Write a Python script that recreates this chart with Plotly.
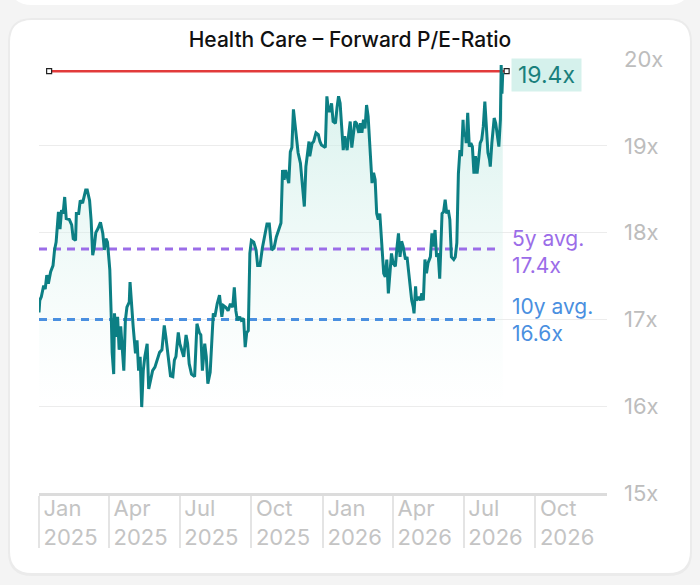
import plotly.graph_objects as go

# forward P/E readings (position on the chart's own y scale)
dates_2025 = [
    "2025-01-01", "2025-01-02", "2025-01-04", "2025-01-07", "2025-01-09", "2025-01-11", "2025-01-13",
    "2025-01-16", "2025-01-19", "2025-01-21", "2025-01-23", "2025-01-26", "2025-01-28", "2025-01-30",
    "2025-02-01", "2025-02-03", "2025-02-05", "2025-02-09", "2025-02-12", "2025-02-14", "2025-02-17",
    "2025-02-18", "2025-02-21", "2025-02-23", "2025-02-26", "2025-02-28", "2025-03-02", "2025-03-04",
    "2025-03-07", "2025-03-09", "2025-03-11", "2025-03-13", "2025-03-15", "2025-03-18", "2025-03-21",
    "2025-03-24", "2025-03-26", "2025-03-28", "2025-03-30", "2025-04-01", "2025-04-02", "2025-04-04",
    "2025-04-05", "2025-04-07", "2025-04-08", "2025-04-10", "2025-04-12", "2025-04-14", "2025-04-16",
    "2025-04-20", "2025-04-22", "2025-04-24", "2025-04-27", "2025-04-28", "2025-04-30", "2025-05-02",
    "2025-05-05", "2025-05-07", "2025-05-09", "2025-05-11", "2025-05-13", "2025-05-15", "2025-05-17",
    "2025-05-20", "2025-05-22", "2025-05-24", "2025-05-27", "2025-05-30", "2025-06-02", "2025-06-05",
    "2025-06-08", "2025-06-11", "2025-06-13", "2025-06-16", "2025-06-19", "2025-06-22", "2025-06-24",
    "2025-06-26", "2025-06-29", "2025-07-01", "2025-07-04", "2025-07-06", "2025-07-09", "2025-07-11",
    "2025-07-13", "2025-07-16", "2025-07-20", "2025-07-23", "2025-07-26", "2025-07-28", "2025-07-30",
    "2025-08-02", "2025-08-04", "2025-08-06", "2025-08-09", "2025-08-11", "2025-08-13", "2025-08-15",
    "2025-08-18", "2025-08-21", "2025-08-23", "2025-08-24", "2025-08-26", "2025-08-29", "2025-09-01",
    "2025-09-04", "2025-09-07", "2025-09-09", "2025-09-11", "2025-09-13", "2025-09-16", "2025-09-18",
    "2025-09-21", "2025-09-23", "2025-09-25", "2025-09-27", "2025-09-29", "2025-10-01", "2025-10-04",
    "2025-10-07", "2025-10-09", "2025-10-12", "2025-10-15", "2025-10-18", "2025-10-21", "2025-10-24",
    "2025-10-27", "2025-10-30", "2025-11-02", "2025-11-05", "2025-11-08", "2025-11-10", "2025-11-12",
    "2025-11-14", "2025-11-16", "2025-11-18", "2025-11-20", "2025-11-22", "2025-11-24", "2025-11-26",
    "2025-11-28", "2025-11-30", "2025-12-03", "2025-12-05", "2025-12-08", "2025-12-10", "2025-12-12",
    "2025-12-14", "2025-12-15", "2025-12-18", "2025-12-20", "2025-12-23", "2025-12-26", "2025-12-28",
    "2025-12-30",
]
pe_2025 = [
    17.08, 17.22, 17.26, 17.39, 17.35, 17.51, 17.41,
    17.55, 17.62, 17.80, 17.89, 18.24, 18.04, 18.26,
    18.22, 18.41, 18.16, 18.15, 18.09, 17.93, 17.91,
    18.22, 18.22, 18.37, 18.34, 18.43, 18.49, 18.49,
    18.37, 18.14, 17.74, 17.83, 18.00, 18.05, 18.12,
    17.99, 17.80, 17.93, 17.89, 17.68, 17.57, 16.99,
    16.62, 16.37, 17.07, 16.80, 17.03, 16.65, 16.92,
    16.41, 16.99, 17.14, 17.20, 17.43, 17.14, 16.92,
    16.61, 16.76, 16.41, 16.57, 15.99, 16.41, 16.57,
    16.72, 16.20, 16.30, 16.41, 16.45, 16.53, 16.62,
    16.65, 16.93, 16.80, 16.57, 16.35, 16.34, 16.53,
    16.57, 16.85, 16.72, 16.61, 16.57, 16.82, 16.72,
    16.49, 16.37, 16.34, 16.95, 16.85, 16.82, 16.41,
    16.72, 16.57, 16.26, 16.39, 16.76, 17.07, 17.03,
    17.18, 17.28, 17.10, 17.03, 17.16, 17.14, 17.10,
    17.18, 17.14, 17.37, 17.10, 16.99, 17.03, 16.99,
    17.01, 16.68, 16.85, 16.87, 17.76, 17.91, 17.89,
    17.80, 17.62, 17.62, 17.82, 17.97, 18.10, 18.10,
    17.80, 17.82, 17.95, 18.03, 18.11, 18.72, 18.61,
    18.72, 18.63, 18.57, 18.93, 18.98, 19.42, 19.26,
    19.11, 18.92, 18.80, 18.61, 18.30, 18.76, 18.88,
    19.05, 18.88, 19.03, 19.05, 19.15, 19.13, 19.05,
    19.01,
]
dates_2026 = [
    "2026-01-04", "2026-01-06", "2026-01-08", "2026-01-10", "2026-01-12", "2026-01-14", "2026-01-17",
    "2026-01-19", "2026-01-21", "2026-01-23", "2026-01-25", "2026-01-27", "2026-01-29", "2026-02-01",
    "2026-02-03", "2026-02-05", "2026-02-07", "2026-02-09", "2026-02-11", "2026-02-13", "2026-02-16",
    "2026-02-18", "2026-02-20", "2026-02-22", "2026-02-24", "2026-02-26", "2026-02-28", "2026-03-03",
    "2026-03-05", "2026-03-07", "2026-03-09", "2026-03-11", "2026-03-13", "2026-03-15", "2026-03-17",
    "2026-03-20", "2026-03-22", "2026-03-24", "2026-03-26", "2026-03-28", "2026-03-30", "2026-04-01",
    "2026-04-04", "2026-04-06", "2026-04-08", "2026-04-10", "2026-04-12", "2026-04-14", "2026-04-17",
    "2026-04-19", "2026-04-21", "2026-04-23", "2026-04-25", "2026-04-27", "2026-04-28", "2026-04-30",
    "2026-05-01", "2026-05-04", "2026-05-06", "2026-05-08", "2026-05-10", "2026-05-12", "2026-05-14",
    "2026-05-16", "2026-05-19", "2026-05-21", "2026-05-23", "2026-05-25", "2026-05-27", "2026-05-29",
    "2026-05-31", "2026-06-03", "2026-06-05", "2026-06-07", "2026-06-09", "2026-06-11", "2026-06-13",
    "2026-06-15", "2026-06-18", "2026-06-20", "2026-06-22", "2026-06-24", "2026-06-26", "2026-06-28",
    "2026-06-30", "2026-07-01", "2026-07-03", "2026-07-04", "2026-07-06", "2026-07-08", "2026-07-10",
    "2026-07-12", "2026-07-14", "2026-07-16", "2026-07-18", "2026-07-20", "2026-07-22", "2026-07-24",
    "2026-07-26", "2026-07-28", "2026-07-30", "2026-08-01", "2026-08-03", "2026-08-04", "2026-08-06",
    "2026-08-08", "2026-08-09", "2026-08-11", "2026-08-13", "2026-08-15", "2026-08-17", "2026-08-18",
    "2026-08-19", "2026-08-20",
]
pe_2026 = [
    18.98, 19.57, 19.40, 19.40, 19.49, 19.28, 19.26,
    19.44, 19.57, 19.49, 19.26, 18.95, 19.11, 18.95,
    19.13, 19.28, 18.98, 19.13, 19.28, 19.26, 19.15,
    19.26, 19.15, 19.30, 19.20, 19.47, 19.34, 18.88,
    18.57, 18.69, 18.61, 18.22, 18.15, 18.22, 17.90,
    17.53, 17.49, 17.69, 17.30, 17.53, 17.76, 17.65,
    17.61, 17.82, 17.99, 17.72, 17.90, 17.84, 17.69,
    17.72, 17.53, 17.38, 17.22, 17.14, 17.07, 17.38,
    17.22, 17.26, 17.22, 17.30, 17.22, 17.69, 17.53,
    17.65, 17.72, 17.99, 17.84, 18.03, 17.72, 17.76,
    17.47, 18.22, 18.24, 18.38, 18.22, 18.26, 18.15,
    17.72, 17.69, 17.72, 17.88, 18.68, 18.95, 18.88,
    19.30, 19.11, 19.15, 19.03, 19.38, 18.99, 19.03,
    18.99, 18.68, 18.88, 18.68, 18.84, 19.03, 19.07,
    19.22, 19.51, 19.15, 18.92, 18.84, 18.76, 19.03,
    19.22, 19.32, 19.26, 19.11, 18.99, 19.30, 19.93,
    19.60, 19.84,
]

title = "Health Care – Forward P/E-Ratio"
current_level = 19.86
current_label = "19.4x"
current_span = ["2025-01-14", "2026-08-25"]
avg5_level = 17.81
avg5_label = "5y avg.<br>17.4x"
avg10_level = 17.0
avg10_label = "10y avg.<br>16.6x"
avg_span = ["2025-01-01", "2026-08-16"]

quarters = ["2025-01-01", "2025-04-01", "2025-07-01", "2025-10-01",
            "2026-01-01", "2026-04-01", "2026-07-01", "2026-10-01"]
quarter_labels = ["Jan<br>2025", "Apr<br>2025", "Jul<br>2025", "Oct<br>2025",
                  "Jan<br>2026", "Apr<br>2026", "Jul<br>2026", "Oct<br>2026"]
y_ticks = [15, 16, 17, 18, 19, 20]
y_tick_labels = ["15x", "16x", "17x", "18x", "19x", "20x"]

dates = dates_2025 + dates_2026
pe = pe_2025 + pe_2026

TEAL = "#0c7f84"
PURPLE = "#9b6de8"
BLUE = "#4a8fe0"
FONT = "Inter"

W, H = 700, 585
ML, MR, MT, MB = 39, 93, 59, 92
pw, ph = W - ML - MR, H - MT - MB


def card_path(x0, y0, x1, y1, r):
    # pixel box -> paper coords, rounded corners
    X0 = (x0 - ML) / pw
    X1 = (x1 - ML) / pw
    YT = (H - MB - y0) / ph
    YB = (H - MB - y1) / ph
    rx, ry = r / pw, r / ph
    return (f"M{X0+rx},{YT} L{X1-rx},{YT} Q{X1},{YT} {X1},{YT-ry} "
            f"L{X1},{YB+ry} Q{X1},{YB} {X1-rx},{YB} L{X0+rx},{YB} "
            f"Q{X0},{YB} {X0},{YB+ry} L{X0},{YT-ry} Q{X0},{YT} {X0+rx},{YT} Z")


fig = go.Figure()

# area under the line
fig.add_trace(go.Scatter(
    x=dates, y=pe, mode="lines", line=dict(width=0, color=TEAL),
    fill="tozeroy",
    fillgradient=dict(type="vertical",
                      colorscale=[[0, "rgba(225,245,241,0)"], [1, "rgba(200,236,229,0.75)"]],
                      start=16.0, stop=19.9),
    hoverinfo="skip"))

fig.add_trace(go.Scatter(x=avg_span, y=[avg5_level, avg5_level], mode="lines",
                         line=dict(color=PURPLE, width=3, dash="8px,6px")))
fig.add_trace(go.Scatter(x=avg_span, y=[avg10_level, avg10_level], mode="lines",
                         line=dict(color=BLUE, width=3, dash="8px,6px")))

fig.add_trace(go.Scatter(x=current_span, y=[current_level, current_level], mode="lines+markers",
                         line=dict(color="#e23b3b", width=2.5),
                         marker=dict(symbol="square", size=5, color="white",
                                     line=dict(color="#222", width=1.2))))

fig.add_trace(go.Scatter(x=dates, y=pe, mode="lines", line=dict(color=TEAL, width=3)))

fig.add_annotation(x=current_span[1], y=current_level, text=current_label,
                   xanchor="left", yanchor="middle", xshift=4, yshift=-4, showarrow=False,
                   width=61, height=24, borderpad=4, bgcolor="#d5f1ec",
                   font=dict(family=FONT, size=23, color="#1a807c"))
fig.add_annotation(x=avg_span[1], y=avg5_level, text=avg5_label, align="left",
                   xanchor="left", yanchor="middle", xshift=10, yshift=-3, showarrow=False,
                   font=dict(family=FONT, size=21, color=PURPLE))
fig.add_annotation(x=avg_span[1], y=avg10_level, text=avg10_label, align="left",
                   xanchor="left", yanchor="middle", xshift=10, yshift=-1, showarrow=False,
                   font=dict(family=FONT, size=21, color=BLUE))

fig.update_layout(
    width=W, height=H,
    margin=dict(l=ML, r=MR, t=MT, b=MB),
    paper_bgcolor="#f4f4f4", plot_bgcolor="rgba(0,0,0,0)",
    showlegend=False,
    font=dict(family=FONT),
    title=dict(text=title, x=0.5, xref="container", xanchor="center",
               y=1 - 40 / H, yref="container", yanchor="middle",
               font=dict(family=FONT, size=21, color="#111111", weight=500)),
    shapes=[
        dict(type="path", xref="paper", yref="paper", layer="below",
             path=card_path(8, 18, 692, 576, 24), fillcolor="#ebebeb", line=dict(width=0)),
        dict(type="path", xref="paper", yref="paper", layer="below",
             path=card_path(10, 20, 690, 573, 22), fillcolor="white", line=dict(width=0)),
        dict(type="path", xref="paper", yref="paper", layer="below",
             path=card_path(10, -40, 690, 5, 22), fillcolor="white", line=dict(width=0)),
    ],
)

fig.update_xaxes(
    type="date", range=["2025-01-01", "2027-01-01"],
    tickvals=quarters, ticktext=quarter_labels,
    ticks="outside", ticklen=52, tickwidth=2, tickcolor="#e4e4e4",
    ticklabelposition="outside right", ticklabelstandoff=-6, ticklabelshift=2,
    tickfont=dict(family=FONT, size=22, color="#c4c4c4"),
    showline=True, linecolor="#dcdcdc", linewidth=3,
    showgrid=False, zeroline=False)

fig.update_yaxes(
    side="right", range=[15, 20],
    tickvals=y_ticks, ticktext=y_tick_labels,
    ticks="", ticklabelstandoff=16,
    tickfont=dict(family=FONT, size=22, color="#bdbdbd"),
    showgrid=True, gridcolor="#ececec", gridwidth=1, zeroline=False)

# page body has a default 8px margin; drop it so the figure sits at the window origin
fig.write_html("out.html", config={"displayModeBar": False},
               post_script="document.body.style.margin='0';")
